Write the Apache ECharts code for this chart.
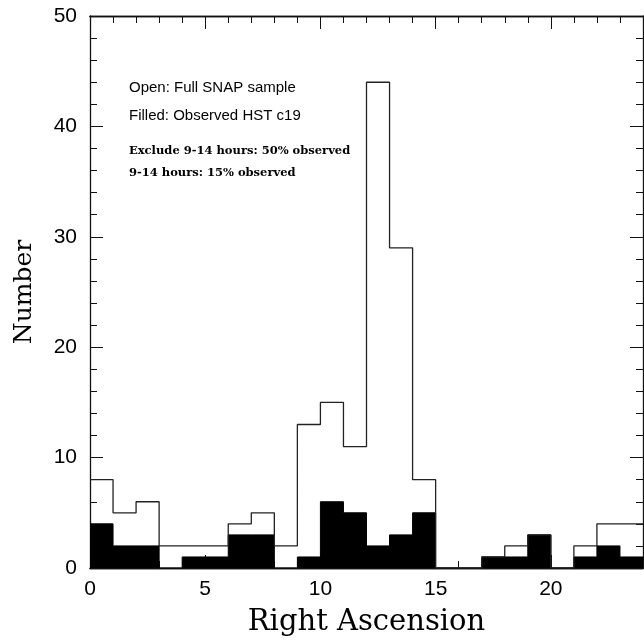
<!DOCTYPE html>
<html><head><meta charset="utf-8">
<script src="https://cdn.jsdelivr.net/npm/echarts@6/dist/echarts.min.js"></script>
<style>html,body{margin:0;padding:0;background:#fff}#c{width:644px;height:642px}</style>
</head><body><div id="c"></div>
<script>
// Histogram bins: left edges in hours (bin width 1 h)
const binEdges = [0,1,2,3,4,5,6,7,8,9,10,11,12,13,14,15,16,17,18,19,20,21,22,23];
const binEnd = 24;
// Open: Full SNAP sample
const openCounts = [8,5,6,2,2,2,4,5,2,13,15,11,44,29,8,0,0,1,2,3,0,2,4,4];
// Filled: Observed HST c19
const filledCounts = [4,2,2,0,1,1,3,3,0,1,6,5,2,3,5,0,0,1,1,3,0,1,2,1];
const xTickLabels = ['0','5','10','15','20'];
const yTickLabels = ['0','10','20','30','40','50'];
const notes = ['Open: Full SNAP sample','Filled: Observed HST c19','Exclude 9-14 hours: 50% observed','9-14 hours: 15% observed'];

function stepData(counts){
  const d = binEdges.map((x,i)=>[x,counts[i]]);
  d.push([binEnd, counts[counts.length-1]]);
  return d;
}

const chart = echarts.init(document.getElementById('c'));
const serif = 'DejaVu Serif';
const sans = 'Liberation Sans';
const lineCol = '#111';
function xAx(pos, major, show){
  return {
    type:'value', position:pos, min:0, max:24, interval: major?5:1,
    axisLine:{show:true, onZero:false, lineStyle:{color:lineCol,width:1.3}},
    axisTick:{show:true, inside:true, length: major?13:7, lineStyle:{color:lineCol,width:1}},
    axisLabel:{show:show, showMaxLabel:false, margin:11, fontFamily:sans, fontSize:21, color:'#000',
      formatter:v=> xTickLabels.includes(String(v)) ? String(v) : ''},
    splitLine:{show:false},
    name: show ? 'Right Ascension' : '', nameLocation:'middle', nameGap:40,
    nameTextStyle:{fontFamily:serif, fontSize:29, color:'#000'}
  };
}
function yAx(pos, show){
  return {
    type:'value', position:pos, min:0, max:50, interval:10,
    axisLine:{show:true, onZero:false, lineStyle:{color:lineCol,width:1.3}},
    axisTick:{show:true, inside:true, length:13, lineStyle:{color:lineCol,width:1}},
    minorTick:{show:true, splitNumber:5, length:7, lineStyle:{color:lineCol,width:1}},
    axisLabel:{show:show, margin:13, fontFamily:sans, fontSize:21, color:'#000',
      formatter:v=> yTickLabels.includes(String(v)) ? String(v) : ''},
    splitLine:{show:false},
    name: show ? 'Number' : '', nameLocation:'middle', nameGap:53,
    nameTextStyle:{fontFamily:serif, fontSize:25, color:'#000'}
  };
}

chart.setOption({
  animation:false,
  backgroundColor:'#fff',
  grid:{left:90, right:1, top:16, bottom:72},
  xAxis:[xAx('bottom',true,true), xAx('bottom',false,false), xAx('top',true,false), xAx('top',false,false)],
  yAxis:[yAx('left',true), yAx('right',false)],
  series:[
    {type:'line', name:'Open', step:'end', data:stepData(openCounts), xAxisIndex:0, yAxisIndex:0,
      symbol:'none', lineStyle:{color:'#222', width:1.3}, z:3},
    {type:'line', name:'Filled', step:'end', data:stepData(filledCounts), xAxisIndex:0, yAxisIndex:0,
      symbol:'none', lineStyle:{color:'#000', width:1}, areaStyle:{color:'#000', opacity:1}, z:2}
  ],
  graphic:[
    {type:'text', left:129, top:80, style:{text:notes[0], font:'15px "Liberation Sans"', fill:'#000'}},
    {type:'text', left:129, top:108, style:{text:notes[1], font:'15px "Liberation Sans"', fill:'#000'}},
    {type:'text', left:129, top:145, style:{text:notes[2], font:'bold 11.5px "DejaVu Serif"', fill:'#000'}},
    {type:'text', left:129, top:167, style:{text:notes[3], font:'bold 11.5px "DejaVu Serif"', fill:'#000'}}
  ]
});
</script></body></html>
